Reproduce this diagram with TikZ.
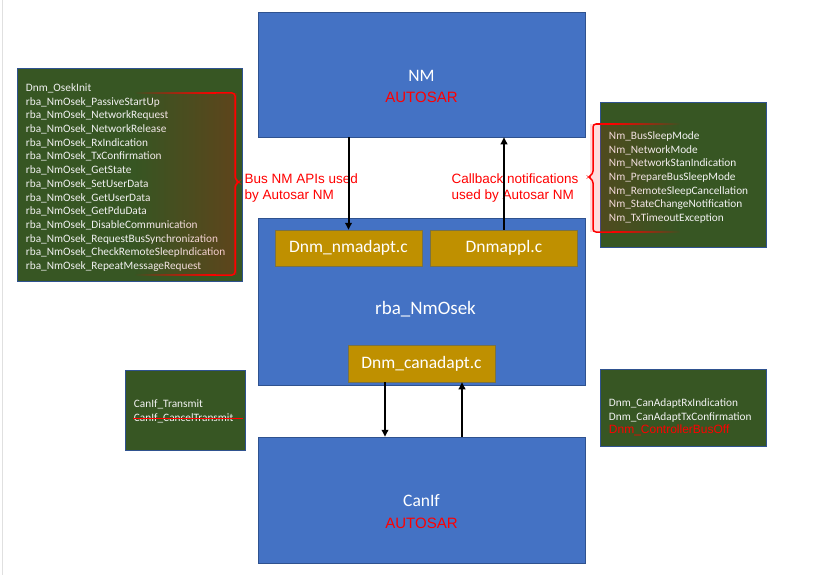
\documentclass[tikz,border=0pt]{standalone}
\usepackage{fontspec}
\setmainfont{Carlito}
\newfontfamily\arialfont{Liberation Sans}
\usetikzlibrary{positioning}
\usetikzlibrary{calc}
\usetikzlibrary{arrows.meta}
\usetikzlibrary{fadings}

\definecolor{nmblue}{HTML}{4472C4}
\definecolor{nmborder}{HTML}{2F528F}
\definecolor{filegold}{HTML}{BF9000}
\definecolor{listgreen}{HTML}{375623}
\definecolor{notered}{HTML}{FF0000}
\definecolor{listtext}{HTML}{F2F2F2}

\tikzfading[name=fadeleft, left color=transparent!100, right color=transparent!0]
\tikzfading[name=faderight, left color=transparent!0, right color=transparent!100]

\tikzset{
	layerbox/.style={draw=nmborder, fill=nmblue, line width=0.5pt, minimum width=327pt, inner sep=0pt},
	filebox/.style={draw=nmborder!50!filegold, fill=filegold, line width=0.5pt, minimum width=147pt,
		minimum height=36pt, inner sep=0pt, text=white, font=\fontsize{17.5}{20}\selectfont},
	listtext/.style={align=left, text=listtext, inner sep=0pt, font=\fontsize{11.3}{13.7}\selectfont},
	listbox/.style={draw=nmborder, fill=listgreen, line width=0.5pt, inner sep=0pt},
	layertitle/.style={text=white, inner sep=0pt, font=\fontsize{17.5}{20}\selectfont},
	autosartag/.style={text=notered, inner sep=0pt, font=\arialfont\fontsize{15}{18}\selectfont},
	notelabel/.style={text=notered, align=left, inner sep=0pt, font=\arialfont\fontsize{13.5}{16}\selectfont},
	callarrow/.style={line width=2pt, -{Triangle[length=7pt, width=6.5pt]}},
	bracket/.style={draw=notered, line width=1.5pt, rounded corners=3pt}
}

\begin{document}
\begin{tikzpicture}[x=1pt, y=-1pt]
\useasboundingbox (0,0) rectangle (813,575);
\draw[black!12, line width=1pt] (2,0) -- (2,575);

% layers
\node[layerbox, minimum height=125pt] (nm) at (421.5, 74.5) {};
\node[layerbox, minimum height=167pt, below=81pt of nm] (osek) {};
\node[layerbox, minimum height=126pt, below=51pt of osek] (canif) {};

\node[layertitle] (nmtitle) at ($(nm.center) + (0, 1.5)$) {NM};
\node[autosartag] (nmtag) at ($(nm.center) + (0, 22.5)$) {AUTOSAR};
\node[layertitle, anchor=base, font=\fontsize{19}{22}\selectfont] (osektitle) at ($(osek.center) + (4, 12)$) {rba\_NmOsek};
\node[layertitle] (caniftitle) at ($(canif.center) + (0, 1)$) {CanIf};
\node[autosartag] (caniftag) at ($(canif.center) + (0, 23.5)$) {AUTOSAR};

% source files
\node[filebox] (nmadapt) at (348.5, 248) {Dnm\_nmadapt.c};
\node[filebox, right=8pt of nmadapt] (dnmappl) {Dnmappl.c};
\node[filebox, minimum height=37pt] (canadapt) at (421.5, 363.5) {Dnm\_canadapt.c};

% api lists
\node[listbox, minimum width=225pt, minimum height=213pt] (apilist) at (129.5, 174.5) {};
\node[listtext, anchor=west] (apitext) at ($(apilist.west) + (9, 3)$) {
	Dnm\_OsekInit\\
	rba\_NmOsek\_PassiveStartUp\\
	rba\_NmOsek\_NetworkRequest\\
	rba\_NmOsek\_NetworkRelease\\
	rba\_NmOsek\_RxIndication\\
	rba\_NmOsek\_TxConfirmation\\
	rba\_NmOsek\_GetState\\
	rba\_NmOsek\_SetUserData\\
	rba\_NmOsek\_GetUserData\\
	rba\_NmOsek\_GetPduData\\
	rba\_NmOsek\_DisableCommunication\\
	rba\_NmOsek\_RequestBusSynchronization\\
	rba\_NmOsek\_CheckRemoteSleepIndication\\
	rba\_NmOsek\_RepeatMessageRequest};

\node[listbox, minimum width=166pt, minimum height=145pt] (cblist) at (683, 174.5) {};
\node[listtext, anchor=west] (cbtext) at ($(cblist.west) + (9, 3)$) {
	Nm\_BusSleepMode\\
	Nm\_NetworkMode\\
	Nm\_NetworkStanIndication\\
	Nm\_PrepareBusSleepMode\\
	Nm\_RemoteSleepCancellation\\
	Nm\_StateChangeNotification\\
	Nm\_TxTimeoutException};

\node[listbox, minimum width=120pt, minimum height=80pt] (txlist) at (185, 410) {};
\node[listtext, anchor=west, font=\fontsize{11.3}{14}\selectfont] (txtext) at ($(txlist.west) + (9, 1.5)$) {
	CanIf\_Transmit\\
	CanIf\_CancelTransmit};

\node[listbox, minimum width=166pt, minimum height=77pt] (rxlist) at (683, 407.5) {};
\node[listtext, anchor=west] (rxtext) at ($(rxlist.west) + (9, 10)$) {
	Dnm\_CanAdaptRxIndication\\
	Dnm\_CanAdaptTxConfirmation\\
	{\color{notered}\arialfont\fontsize{12}{13}\selectfont Dnm\_ControllerBusOff}};

\draw[notered, line width=1pt] ($(txlist.west) + (8, 8)$) -- ($(txlist.east) + (-2, 8)$);

% ---

\fill[notered, fill opacity=0.2, path fading=fadeleft] (135, 93) rectangle (237, 275);
\draw[bracket] (214, 93) -- (235, 93) -- (235, 179) -- (239, 182) -- (235, 185) -- (235, 275) -- (214, 275);
\draw[notered, line width=1.5pt, path fading=fadeleft] (135, 93) -- (216, 93);
\draw[notered, line width=1.5pt, path fading=fadeleft] (135, 275) -- (216, 275);

\fill[notered, fill opacity=0.14, path fading=faderight] (590, 124) rectangle (680, 232);
\draw[bracket] (614, 124) -- (593, 124) -- (593, 174) -- (588, 177) -- (593, 180) -- (593, 232) -- (614, 232);
\draw[notered, line width=1.5pt, path fading=faderight] (612, 124) -- (680, 124);
\draw[notered, line width=1.5pt, path fading=faderight] (612, 232) -- (680, 232);

% ---

\node[notelabel, anchor=west] (apinote) at (244.5, 188) {Bus NM APIs used\\by Autosar NM};
\node[notelabel, anchor=west] (cbnote) at (451.5, 188) {Callback notifications\\used by Autosar NM};

\draw[callarrow] (nm.south -| nmadapt.north) -- (nmadapt.north);
\draw[callarrow] (dnmappl.north) -- (dnmappl.north |- nm.south);

\coordinate (candown) at ($(canadapt.south) + (-36.5, 0)$);
\coordinate (canup) at ($(canadapt.south) + (40.5, 0)$);
\draw[callarrow] (candown) -- (candown |- canif.north);
\draw[callarrow] (canup |- canif.north) -- (canup);

\end{tikzpicture}
\end{document}
